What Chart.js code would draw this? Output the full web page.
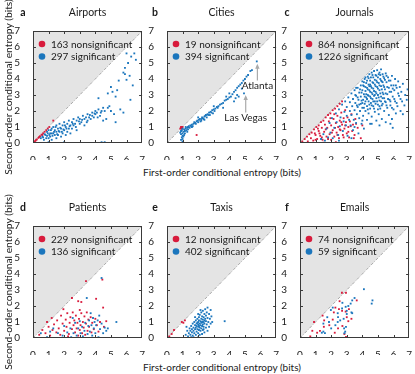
<!DOCTYPE html>
<html lang="en">
<head>
<meta charset="UTF-8" />
<title>Conditional entropy</title>
<style>
  body { margin: 0; background: #fff; }
  #wrap { position: relative; width: 415px; height: 374px; overflow: hidden; font-family: Lato, "DejaVu Sans", sans-serif; color: #1a1a1a; }
  canvas { position: absolute; }
  .xlbl { position: absolute; width: 240px; text-align: center; font-size: 10px; line-height: 12px; white-space: nowrap; }
  .ylbl { position: absolute; width: 200px; text-align: center; font-size: 10.3px; line-height: 12px; white-space: nowrap; transform: rotate(-90deg); }
</style>
</head>
<body>
<div id="wrap">
  <canvas id="pa" width="135" height="160" style="left:13px;top:0"></canvas>
  <canvas id="pb" width="135" height="160" style="left:147px;top:0"></canvas>
  <canvas id="pc" width="135" height="160" style="left:280px;top:0"></canvas>
  <canvas id="pd" width="135" height="160" style="left:13px;top:195px"></canvas>
  <canvas id="pe" width="135" height="160" style="left:147px;top:195px"></canvas>
  <canvas id="pf" width="135" height="160" style="left:280px;top:195px"></canvas>
  <div class="xlbl" style="left:102px;top:166px">First-order conditional entropy (bits)</div>
  <div class="xlbl" style="left:102px;top:361px">First-order conditional entropy (bits)</div>
  <div class="ylbl" style="left:-92px;top:81px">Second-order conditional entropy (bits)</div>
  <div class="ylbl" style="left:-92px;top:276px">Second-order conditional entropy (bits)</div>
</div>

<script src="https://cdn.jsdelivr.net/npm/chart.js"></script>
<script>
  const tickValues = [0, 1, 2, 3, 4, 5, 6, 7];
  const panelTitles = ["Airports", "Cities", "Journals", "Patients", "Taxis", "Emails"];
  const panelLetters = ["a", "b", "c", "d", "e", "f"];
  const nonsigCounts = [163, 19, 864, 229, 12, 74];
  const sigCounts = [297, 394, 1226, 136, 402, 59];

  // [first-order, second-order] entropy (a sample of the points)
  const airportsNonsig = [[0.05,0.04],[0.1,0.08],[0.15,0.13],[0.2,0.2],[0.25,0.22],[0.35,0.32],[0.4,0.38],[0.45,0.42],
    [0.55,0.52],[0.6,0.5],[0.65,0.6],[0.75,0.7],[0.85,0.8],[0.95,0.9],[1.05,1.0],[1.3,1.4]];
  const airportsSig = [[0.5,0.3],[0.6,0.4],[0.7,0.2],[0.8,0.5],[0.9,0.7],[1.0,0.3],[1.0,0.8],[1.1,0.6],[1.1,0.4],
    [1.2,0.9],[1.2,0.2],[1.3,0.6],[1.3,1.0],[1.4,0.5],[1.4,0.8],[1.5,0.3],[1.5,0.7],[1.5,1.1],[1.6,0.9],[1.6,0.5],
    [1.7,0.7],[1.7,1.2],[1.8,0.4],[1.8,0.9],[1.9,1.1],[1.9,0.6],[2.0,0.8],[2.0,1.3],[2.1,1.0],[2.1,0.5],[2.2,1.2],
    [2.2,0.7],[2.3,1.4],[2.3,0.9],[2.4,1.1],[2.4,0.6],[2.5,1.3],[2.5,0.9],[2.6,1.5],[2.6,1.1],[2.7,1.2],[2.8,0.8],
    [2.8,1.4],[2.9,1.6],[3.0,1.2],[3.0,1.5],[3.1,1.3],[3.2,1.7],[3.3,1.5],[3.3,1.1],[3.4,1.6],[3.5,1.4],[3.5,1.8],
    [3.6,1.6],[3.7,1.5],[3.8,1.9],[3.8,1.7],[3.9,1.6],[4.0,2.0],[4.0,1.8],[4.1,1.9],[4.2,2.1],[4.3,1.7],[4.4,2.0],
    [4.5,2.2],[4.5,1.4],[4.6,2.0],[4.7,1.5],[4.8,2.2],[4.9,2.3],[5.0,2.0],[5.2,1.8],[5.3,1.3],[5.6,2.1],[5.8,1.9],
    [4.2,2.8],[4.8,3.1],[5.0,3.5],[5.1,3.2],[5.3,2.9],[5.4,3.3],[5.5,3.9],[5.8,4.4],[5.9,4.7],[6.0,3.95],[6.1,5.0],
    [6.2,4.2],[6.3,5.4],[6.5,5.6],[6.6,5.2],[6.4,3.6],[6.25,2.7],[5.9,4.3],[6.0,5.6],[1.0,0.05],[2.0,0.05],[4.4,0.05],[4.6,0.05],
    [0.65,0.35],[0.75,0.55],[0.85,0.3],[0.95,0.6],[1.05,0.5],[1.15,0.8],[1.25,0.45],[1.35,0.7],[1.45,1.0],[1.55,0.55],
    [1.65,0.75],[1.75,0.95],[1.85,0.7],[1.95,0.85],[2.05,1.1],[2.15,0.9],[2.35,1.05],[2.55,1.2],[2.75,1.0],[2.95,1.35],
    [3.15,1.45],[3.45,1.3],[3.65,1.75],[3.95,1.85],[4.15,1.6],[4.35,1.9],[1.2,0.6],[0.9,0.45]];

  const citiesNonsig = [[0.85,0.9],[0.9,0.95],[0.9,1.0],[0.95,1.0],[1.0,1.0],[0.95,0.9],[1.0,0.02],[1.9,0.5]];
  const citiesSig = [[0.9,0.2],[0.95,0.35],[1.0,0.45],[0.9,0.55],[1.0,0.6],[1.05,0.7],[0.95,0.8],[1.0,0.9],[1.1,0.5],
    [0.85,0.65],[1.0,0.25],[1.05,0.4],[0.9,0.75],[1.1,0.85],[1.0,0.1],[1.15,0.75],[1.2,0.9],[1.25,0.8],[1.3,0.95],
    [1.35,1.0],[1.4,1.05],[1.45,0.95],[1.5,1.1],[1.55,1.05],[1.6,1.15],[1.7,1.2],[1.75,1.3],[1.8,1.25],[1.9,1.35],
    [1.95,1.4],[2.0,1.3],[2.05,1.45],[2.1,1.5],[2.2,1.5],[2.25,1.6],[2.3,1.55],[2.4,1.65],[2.45,1.7],[2.5,1.75],
    [2.6,1.8],[2.65,1.75],[2.7,1.9],[2.8,1.95],[2.85,1.9],[2.9,2.05],[3.0,2.1],[3.05,2.0],[3.1,2.15],[3.2,2.25],
    [3.25,2.2],[3.3,2.3],[3.4,2.4],[3.5,2.45],[3.6,2.5],[3.7,2.65],[3.8,2.7],[3.9,2.75],[4.0,2.85],[4.1,2.9],
    [4.2,3.05],[4.3,3.2],[4.4,3.3],[4.5,3.45],[4.6,3.55],[4.7,3.65],[4.8,3.75],[4.9,3.9],[5.0,4.0],[5.1,4.15],
    [5.2,4.25],[5.35,4.5],[5.45,4.55],[5.76,5.1],[4.94,3.1],[4.4,2.8],[4.5,3.0],[4.6,2.9],[4.3,2.6],[3.6,2.2],
    [2.2,1.4],[2.4,1.45],[2.0,1.6],[1.6,1.0],[1.3,0.7],[3.0,2.3],[3.8,2.9],[4.0,3.1],[1.2,1.0],[4.8,3.4],
    [1.15,0.6],[1.35,0.85],[1.65,1.05],[1.85,1.2],[2.15,1.35],[2.35,1.5],[2.55,1.6],[2.75,1.75],[2.95,1.85]];

  const journalsNonsig = [[0.15,0.1],[0.3,0.25],[0.45,0.4],[0.6,0.55],[0.75,0.65],[0.9,0.85],[1.05,1.0],[1.2,1.1],
    [1.35,1.3],[1.5,1.4],[1.65,1.6],[1.8,1.75],[1.95,1.85],[2.1,2.05],[2.25,2.15],[2.4,2.3],[2.55,2.45],[2.7,2.6],
    [0.5,0.1],[0.7,0.3],[0.85,0.15],[1.0,0.5],[1.1,0.25],[1.2,0.75],[1.3,0.45],[1.4,0.95],[1.45,0.2],[1.55,0.7],
    [1.6,1.15],[1.7,0.4],[1.75,0.95],[1.85,1.35],[1.9,0.55],[2.0,0.2],[2.0,1.1],[2.1,0.8],[2.15,1.5],[2.2,0.4],
    [2.3,1.25],[2.35,0.65],[2.4,1.7],[2.45,1.0],[2.5,0.3],[2.55,1.4],[2.6,0.8],[2.65,1.9],[2.7,1.15],[2.75,0.5],
    [2.8,1.55],[2.85,0.9],[2.9,2.05],[2.95,1.3],[3.0,0.6],[3.05,1.6],[3.1,1.0],[3.15,0.35],[3.2,1.35],[3.3,1.8],
    [3.35,0.75],[3.4,1.15],[3.5,0.5],[3.55,1.5],[3.7,0.95],[3.9,0.3],[4.0,1.1],[1.5,0.02],[2.3,0.05],
    [1.0,0.2],[1.25,0.6],[1.4,0.35],[1.65,0.85],[1.8,0.25],[2.05,0.65],[2.25,0.95],[2.4,0.5],[2.55,0.85],[2.65,1.3],
    [2.8,0.35],[2.9,1.1],[3.1,0.7],[3.25,1.05],[3.45,0.3],[1.95,1.55],[2.2,1.8],[0.95,0.6],[1.15,0.9],[3.6,1.2]];
  const journalsSig = [[1.35,0.25],[1.5,0.55],[1.6,0.15],[1.7,0.9],[1.8,0.35],[1.9,1.25],[1.95,0.65],[2.05,1.55],
    [2.1,0.3],[2.2,0.95],[2.3,1.85],[2.35,1.3],[2.45,0.5],[2.5,2.1],[2.55,1.05],[2.6,1.6],
    [2.7,2.4],[2.75,0.75],[2.8,1.35],[2.85,1.95],[2.9,2.6],[2.95,1.1],[3.0,1.7],[3.0,2.25],[3.05,0.45],[3.1,2.85],
    [3.15,1.45],[3.2,2.0],[3.2,2.55],
    [3.25,1.1],[3.3,3.1],[3.3,1.75],[3.35,2.3],[3.4,2.75],[3.4,0.8],[3.45,1.45],[3.5,3.3],[3.5,2.05],[3.55,2.5],
    [3.6,2.95],[3.6,1.25],[3.65,1.8],[3.7,3.45],[3.7,2.25],[3.75,2.7],[3.75,0.6],[3.8,3.15],[3.8,1.55],[3.85,2.0],
    [3.9,3.6],[3.9,2.45],[3.9,2.9],[3.95,1.2],[4.0,3.85],[4.0,3.3],[4.0,2.2],[4.05,2.7],[4.05,1.7],[4.1,3.55],
    [4.1,3.05],[4.1,0.9],[4.15,2.45],[4.15,4.0],[4.2,3.25],[4.2,2.0],[4.25,3.75],[4.25,2.85],[4.3,1.45],[4.3,3.45],
    [4.3,2.3],[4.35,4.15],[4.35,3.0],[4.4,2.6],[4.4,3.65],[4.4,1.85],
    [4.45,4.3],[4.45,3.3],[4.5,2.9],[4.5,3.9],[4.5,2.15],[4.5,1.2],[4.55,3.55],[4.55,2.5],[4.6,4.4],[4.6,3.15],
    [4.6,1.65],[4.65,3.8],[4.65,2.75],[4.7,4.1],[4.7,3.4],[4.7,2.3],[4.75,2.95],[4.75,4.5],[4.8,3.65],[4.8,1.95],
    [4.8,2.6],[4.85,4.25],[4.85,3.2],[4.9,3.9],[4.9,2.8],[4.9,1.4],[4.95,4.55],[4.95,3.5],[5.0,2.4],[5.0,4.1],[5.0,3.0],
    [5.05,3.75],[5.05,1.8],[5.1,4.4],[5.1,3.3],[5.1,2.65],[5.15,4.0],[5.15,2.15],[5.2,3.55],[5.2,4.6],[5.2,2.9],
    [5.25,1.5],[5.25,3.85],[5.3,3.15],[5.3,4.3],[5.3,2.45],[5.35,3.6],[5.4,2.0],[5.4,4.05],[5.4,2.8],[5.45,3.35],
    [5.5,4.35],[5.5,2.55],[5.5,1.3],[5.55,3.8],[5.6,3.05],[5.6,2.2],
    [5.65,4.1],[5.7,3.45],[5.7,1.75],[5.75,2.7],[5.8,3.9],[5.8,2.35],[5.85,3.2],[5.9,4.2],[5.9,1.5],[5.95,2.9],
    [6.0,3.6],[6.0,2.1],[6.05,3.3],[6.1,4.0],[6.1,2.6],[6.15,1.85],[6.2,3.45],
    [6.25,2.3],[6.3,3.85],[6.35,2.95],[6.4,3.5],[6.45,2.0],[6.5,3.2],[6.55,2.6],[6.6,3.7],[6.7,2.35],[6.75,3.0],
    [6.85,2.7],[6.9,3.35],[5.95,0.95],[6.6,1.8],
    [3.55,3.0],[3.65,2.35],[3.7,2.85],[3.8,2.4],[3.85,3.35],[3.95,2.65],[3.95,3.15],[4.0,2.5],[4.05,3.6],[4.1,2.2],
    [4.1,3.8],[4.15,2.9],[4.2,3.5],[4.2,2.6],[4.25,3.05],[4.3,3.9],[4.3,2.75],[4.35,3.35],[4.35,2.1],[4.4,2.95],
    [4.4,4.05],[4.45,3.55],[4.45,2.4],[4.5,3.2],[4.5,3.65],[4.55,4.1],[4.55,2.8],[4.6,3.45],[4.6,2.35],[4.65,3.05],
    [4.65,4.25],[4.7,2.6],[4.7,3.75],[4.75,3.25],[4.75,2.15],[4.8,3.95],[4.8,3.0],[4.85,2.45],[4.85,3.55],[4.9,4.2],
    [4.9,3.1],[4.95,2.6],[4.95,3.8],[5.0,3.4],[5.0,2.1],[5.05,4.3],[5.05,2.85],[5.1,3.6],[5.1,2.3],[5.15,3.1],
    [5.15,4.25],[5.2,2.6],[5.2,3.9],[5.25,3.35],[5.25,2.35],[5.3,3.8],[5.3,2.8],[5.35,4.15],[5.35,3.05],[5.4,3.5],
    [5.45,2.6],[5.45,3.95],[5.5,3.1],[5.55,2.35],[5.55,4.2],[5.6,3.5],[5.65,2.75],[5.7,3.9],[5.75,3.2],[5.8,2.6],
    [5.85,3.6],[5.9,2.2],[5.95,3.4],[6.05,2.75],[6.15,3.6],[6.2,2.5],[6.3,3.1],[6.45,2.75],[4.6,1.2],[4.0,1.4],
    [3.5,1.0],[5.8,1.2],[5.1,1.1],[3.3,0.3],[2.5,0.15],[4.2,4.1],[3.6,3.45]];

  const patientsNonsig = [[0.4,0.2],[0.6,0.5],[0.8,0.3],[0.9,1.0],[1.0,0.7],[1.1,0.15],[1.2,1.25],[1.25,0.5],
    [1.35,0.85],[1.5,0.35],[1.55,1.1],[1.65,0.6],[1.75,0.2],[1.8,1.4],[1.9,0.9],[1.95,1.8],[2.0,0.45],[2.1,1.15],
    [2.15,0.7],[2.2,1.55],[2.3,0.25],[2.35,0.95],[2.4,1.3],[2.5,2.5],[2.5,0.55],[2.55,1.6],[2.6,0.8],[2.65,1.1],
    [2.7,0.35],[2.75,1.4],[2.8,0.6],[2.85,0.95],[2.9,2.3],[2.9,0.15],[2.95,1.2],[3.0,0.5],[3.05,0.8],[3.1,2.25],
    [3.1,1.55],[3.15,0.3],[3.2,1.0],[3.25,0.65],[3.3,1.35],[3.35,0.2],[3.4,3.55],[3.4,0.9],[3.45,1.6],[3.5,0.45],
    [3.55,1.15],[3.6,0.7],[3.7,1.3],[3.75,0.35],[3.8,0.95],[3.9,0.55],[4.0,1.2],[4.05,2.45],[4.1,0.8],[4.2,0.4],
    [4.3,1.0],[4.45,3.65],[4.5,1.9],[4.55,0.7],[4.7,1.05],[3.0,1.75],[2.25,0.1]];
  const patientsSig = [[0.5,0.3],[0.9,0.05],[1.1,0.4],[1.3,0.6],[1.6,0.3],[1.9,0.15],[2.0,0.75],[2.2,0.35],[2.4,0.6],
    [2.45,0.05],[2.55,1.25],[2.6,0.3],[2.7,0.95],[2.8,0.15],[2.9,0.6],[3.0,1.05],[3.05,0.3],[3.15,0.7],[3.2,0.1],
    [3.3,0.45],[3.35,0.95],[3.45,2.5],[3.5,0.25],[3.55,0.75],[3.6,1.1],[3.65,0.4],[3.7,1.55],[3.75,0.8],[3.8,0.15],
    [3.85,1.25],[3.9,0.6],[3.95,1.0],[4.0,0.3],[4.05,0.8],[4.15,1.1],[4.2,0.05],[4.25,1.4],[4.3,0.55],[4.4,3.75],
    [4.4,0.9],[4.5,0.3],[4.6,0.65],[4.7,0.45],[4.8,0.6],[5.35,1.0]];

  const taxisNonsig = [[0.15,0.1],[0.3,0.25],[0.45,0.5],[0.95,1.0],[1.05,0.95],[1.15,1.1]];
  const taxisSig = [[1.2,0.2],[1.25,0.7],[1.3,0.45],[1.35,0.1],[1.4,0.3],[1.45,0.6],[1.5,0.2],[1.5,0.45],[1.55,0.75],
    [1.55,0.05],[1.6,0.35],[1.6,0.55],[1.65,0.15],[1.65,0.9],[1.7,0.45],[1.7,0.65],[1.7,0.05],[1.75,0.3],[1.75,1.0],
    [1.8,0.55],[1.8,0.8],[1.8,1.3],[1.85,0.2],[1.85,0.65],[1.85,1.1],[1.9,0.4],[1.9,0.9],[1.9,0.75],[1.95,0.55],
    [1.95,1.2],[1.95,0.95],[2.0,0.3],[2.0,0.7],[2.0,1.0],[2.0,0.85],[2.0,1.5],[2.0,0.05],[2.05,0.5],[2.05,1.3],
    [2.05,1.1],[2.05,0.75],[2.1,0.65],[2.1,0.9],[2.1,0.2],[2.1,1.45],[2.15,0.8],[2.15,1.05],[2.15,0.45],[2.15,1.75],
    [2.2,1.2],[2.2,0.6],[2.2,0.95],[2.2,1.6],[2.25,0.75],[2.25,1.35],[2.25,1.0],[2.25,0.25],[2.3,0.5],[2.3,1.15],
    [2.3,0.85],[2.3,1.7],[2.35,1.3],[2.35,0.7],[2.35,1.0],[2.35,0.55],[2.4,1.5],[2.4,0.9],[2.4,0.35],[2.4,1.1],
    [2.45,1.2],[2.45,1.8],[2.5,1.05],[2.5,0.65],[2.5,1.4],[2.55,1.6],[2.55,0.85],[2.6,1.25],[2.6,1.9],[2.6,0.45],
    [2.65,1.0],[2.7,1.5],[2.7,0.7],[2.75,1.2],[2.8,1.75],[2.8,0.9],[2.85,1.35],[2.9,1.0],[3.7,1.05]];

  const emailsNonsig = [[2.69,2.83],[2.95,2.83],[2.54,2.3],[3.64,2.35],[2.27,1.9],[2.17,1.6],[2.5,1.8],[2.93,1.65],
    [3.0,1.3],[3.1,1.05],[2.1,1.15],[2.44,0.6],[2.72,0.75],[2.23,0.33],[2.85,0.25],[1.28,0.45],[1.1,0.33],
    [0.79,0.45],[0.9,1.0],[1.45,1.4],[1.53,0.7],[1.55,1.1],[0.66,0.1],[2.95,0.06],[3.3,1.2],[1.88,0.8],[3.14,1.8],[2.7,1.7]];
  const emailsSig = [[4.1,3.05],[4.65,2.35],[4.6,2.15],[3.5,2.5],[3.35,2.35],[3.25,2.15],[3.1,2.0],[2.72,2.2],
    [2.93,1.95],[2.7,1.85],[2.1,1.9],[1.98,1.75],[2.42,1.55],[3.0,1.7],[3.3,1.6],[3.35,1.55],[3.0,1.5],[1.75,1.3],
    [1.86,1.0],[1.5,0.9],[2.42,1.0],[2.27,0.8],[2.0,0.6],[1.5,0.4],[1.4,0.33],[1.6,0.3],[2.83,0.6],[2.9,0.4],
    [2.85,0.3],[2.95,0.7],[2.58,1.1],[2.44,1.3],[2.8,1.2]];

  // label text, label centre (x, y), arrow x, arrow from y to y
  const cityNotes = [
    ["Atlanta", 5.8, 3.55, 5.8, 3.9, 4.95],
    ["Las Vegas", 5.05, 1.55, 5.05, 1.9, 3.0],
  ];

  const RED = "#d81b3c";
  const BLUE = "#1b76bd";
  const INK = "#1a1a1a";

  const decor = {
    id: "decor",
    beforeDatasetsDraw(chart) {
      const { ctx, scales: { x, y } } = chart;
      ctx.save();
      ctx.beginPath();
      ctx.moveTo(x.getPixelForValue(0), y.getPixelForValue(0));
      ctx.lineTo(x.getPixelForValue(0), y.getPixelForValue(7));
      ctx.lineTo(x.getPixelForValue(7), y.getPixelForValue(7));
      ctx.closePath();
      ctx.fillStyle = "#e4e4e4";
      ctx.fill();
      ctx.beginPath();
      ctx.setLineDash([3, 1.5, 0.8, 1.5]);
      ctx.moveTo(x.getPixelForValue(0), y.getPixelForValue(0));
      ctx.lineTo(x.getPixelForValue(7), y.getPixelForValue(7));
      ctx.strokeStyle = "#777";
      ctx.lineWidth = 0.6;
      ctx.stroke();
      ctx.restore();
    },
    afterDatasetsDraw(chart, args, opts) {
      const { ctx, chartArea: a, scales: { x, y } } = chart;
      ctx.save();
      // frame and inward ticks
      ctx.strokeStyle = "#3a3a3a";
      ctx.lineWidth = 1;
      ctx.strokeRect(Math.round(a.left) + 0.5, Math.round(a.top) + 0.5, Math.round(a.width) - 1, Math.round(a.height) - 1);
      ctx.beginPath();
      tickValues.slice(1, -1).forEach((v) => {
        const px = Math.round(x.getPixelForValue(v)) + 0.5;
        const py = Math.round(y.getPixelForValue(v)) + 0.5;
        ctx.moveTo(px, a.bottom); ctx.lineTo(px, a.bottom - 3);
        ctx.moveTo(px, a.top); ctx.lineTo(px, a.top + 3);
        ctx.moveTo(a.left, py); ctx.lineTo(a.left + 3, py);
        ctx.moveTo(a.right, py); ctx.lineTo(a.right - 3, py);
      });
      ctx.stroke();

      // legend inside the plot
      ctx.font = "10px Lato";
      ctx.textBaseline = "middle";
      ctx.textAlign = "left";
      [[RED, opts.nonsig + " nonsignificant", 13], [BLUE, opts.sig + " significant", 25.5]].forEach(([c, t, dy]) => {
        ctx.fillStyle = c;
        ctx.beginPath();
        ctx.arc(a.left + 9, a.top + dy, 3.3, 0, Math.PI * 2);
        ctx.fill();
        ctx.fillStyle = INK;
        ctx.fillText(t, a.left + 18, a.top + dy + 0.5);
      });

      // title and panel letter
      ctx.font = "10.5px Lato";
      ctx.textAlign = "center";
      ctx.fillText(opts.title, (a.left + a.right) / 2, a.top - 18);
      ctx.font = "bold 10.5px Lato";
      ctx.fillText(opts.letter, a.left - opts.letterDx, a.top - 18);

      // annotations
      (opts.notes || []).forEach(([t, tx, ty, ax, y0, y1]) => {
        ctx.font = "10px Lato";
        ctx.fillStyle = INK;
        ctx.fillText(t, x.getPixelForValue(tx), y.getPixelForValue(ty));
        const px = x.getPixelForValue(ax);
        const p0 = y.getPixelForValue(y0);
        const p1 = y.getPixelForValue(y1);
        ctx.strokeStyle = "#aaa";
        ctx.lineWidth = 1.2;
        ctx.beginPath();
        ctx.moveTo(px, p0);
        ctx.lineTo(px, p1 + 2);
        ctx.stroke();
        ctx.fillStyle = "#aaa";
        ctx.beginPath();
        ctx.moveTo(px, p1);
        ctx.lineTo(px - 2.2, p1 + 5);
        ctx.lineTo(px + 2.2, p1 + 5);
        ctx.closePath();
        ctx.fill();
      });
      ctx.restore();
    },
  };

  function pts(list) {
    return list.map(([a, b]) => ({ x: a, y: b }));
  }

  function makePanel(id, i, nonsig, sig, notes, letterDx) {
    const axis = (pad) => ({
      type: "linear",
      min: 0,
      max: 7,
      afterBuildTicks: (s) => { s.ticks = tickValues.map((v) => ({ value: v })); },
      ticks: { font: { size: 10, family: "Lato" }, color: INK, padding: pad, autoSkip: false, maxRotation: 0 },
      grid: { display: false },
      border: { display: false },
    });
    const xAxis = axis(3);
    xAxis.afterFit = (s) => { s.height = 17; };
    const yAxis = axis(5);
    yAxis.afterFit = (s) => { s.width = 20; };

    return new Chart(document.getElementById(id), {
      type: "scatter",
      data: {
        datasets: [
          { label: "significant", data: pts(sig), backgroundColor: BLUE, pointStyle: "rect", pointRadius: 1.3, borderWidth: 0 },
          { label: "nonsignificant", data: pts(nonsig), backgroundColor: RED, pointStyle: "rect", pointRadius: 1.3, borderWidth: 0 },
        ],
      },
      options: {
        responsive: false,
        animation: false,
        devicePixelRatio: 1,
        layout: { padding: { top: 31, right: 2, left: 0, bottom: 0 } },
        scales: { x: xAxis, y: yAxis },
        plugins: {
          legend: { display: false },
          tooltip: { enabled: false },
          decor: { title: panelTitles[i], letter: panelLetters[i], nonsig: nonsigCounts[i], sig: sigCounts[i], notes, letterDx },
        },
      },
      plugins: [decor],
    });
  }

  makePanel("pa", 0, airportsNonsig, airportsSig, null, 10);
  makePanel("pb", 1, citiesNonsig, citiesSig, cityNotes, 12);
  makePanel("pc", 2, journalsNonsig, journalsSig, null, 13);
  makePanel("pd", 3, patientsNonsig, patientsSig, null, 10);
  makePanel("pe", 4, taxisNonsig, taxisSig, null, 12);
  makePanel("pf", 5, emailsNonsig, emailsSig, null, 13);
</script>
</body>
</html>
